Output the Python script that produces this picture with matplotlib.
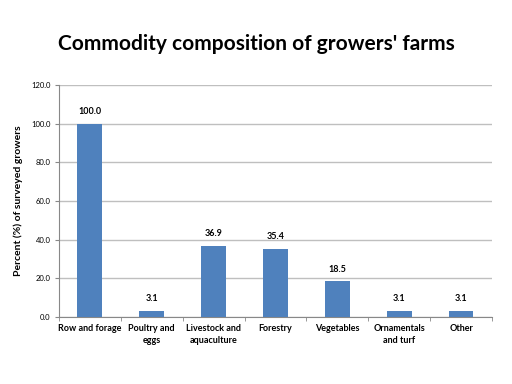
import numpy as np
import matplotlib
matplotlib.use("Agg")
import matplotlib.pyplot as plt

plt.rcParams['font.family'] = ['Lato', 'DejaVu Sans']

categories = ["Row and forage", "Poultry and\neggs", "Livestock and\naquaculture",
              "Forestry", "Vegetables", "Ornamentals\nand turf", "Other"]
values = [100.0, 3.1, 36.9, 35.4, 18.5, 3.1, 3.1]
yticks = [0, 20, 40, 60, 80, 100, 120]

fig = plt.figure(figsize=(5.12, 3.84), dpi=100)
ax = fig.add_axes([0.115, 0.174, 0.846, 0.605])

x = np.arange(len(categories))
bars = ax.bar(x, values, width=0.4, color="#4f81bd", zorder=3)
for xi, v in zip(x, values):
    ax.text(xi, v + 4, f"{v:.1f}", ha="center", va="bottom", fontsize=6.5, fontweight="bold")

ax.set_xlim(-0.5, len(categories) - 0.5)
ax.set_ylim(0, 120)
ax.set_yticks(yticks)
ax.set_yticklabels([f"{t:.1f}" for t in yticks], fontsize=5.5)
ax.yaxis.grid(True, color="#bfbfbf", linewidth=1, zorder=0)
ax.set_xticks(x)
ax.set_xticklabels(categories, fontsize=6.5, fontweight="bold", linespacing=1.4)
ax.set_xticks(np.arange(len(categories) + 1) - 0.5, minor=True)
ax.tick_params(axis="x", which="major", length=0, pad=5)
ax.tick_params(axis="x", which="minor", length=3, color="#888888")
ax.tick_params(axis="y", length=3, color="#888888", pad=3)

for s in ["top", "right"]:
    ax.spines[s].set_visible(False)
ax.spines["left"].set_color("#888888")
ax.spines["bottom"].set_color("#888888")

ax.set_ylabel("Percent (%) of surveyed growers", fontsize=7.5, fontweight="bold", labelpad=6)
fig.text(0.5, 0.885, "Commodity composition of growers' farms", ha="center", va="center",
         fontsize=15, fontweight="bold")

fig.savefig("out.png", dpi=100)
